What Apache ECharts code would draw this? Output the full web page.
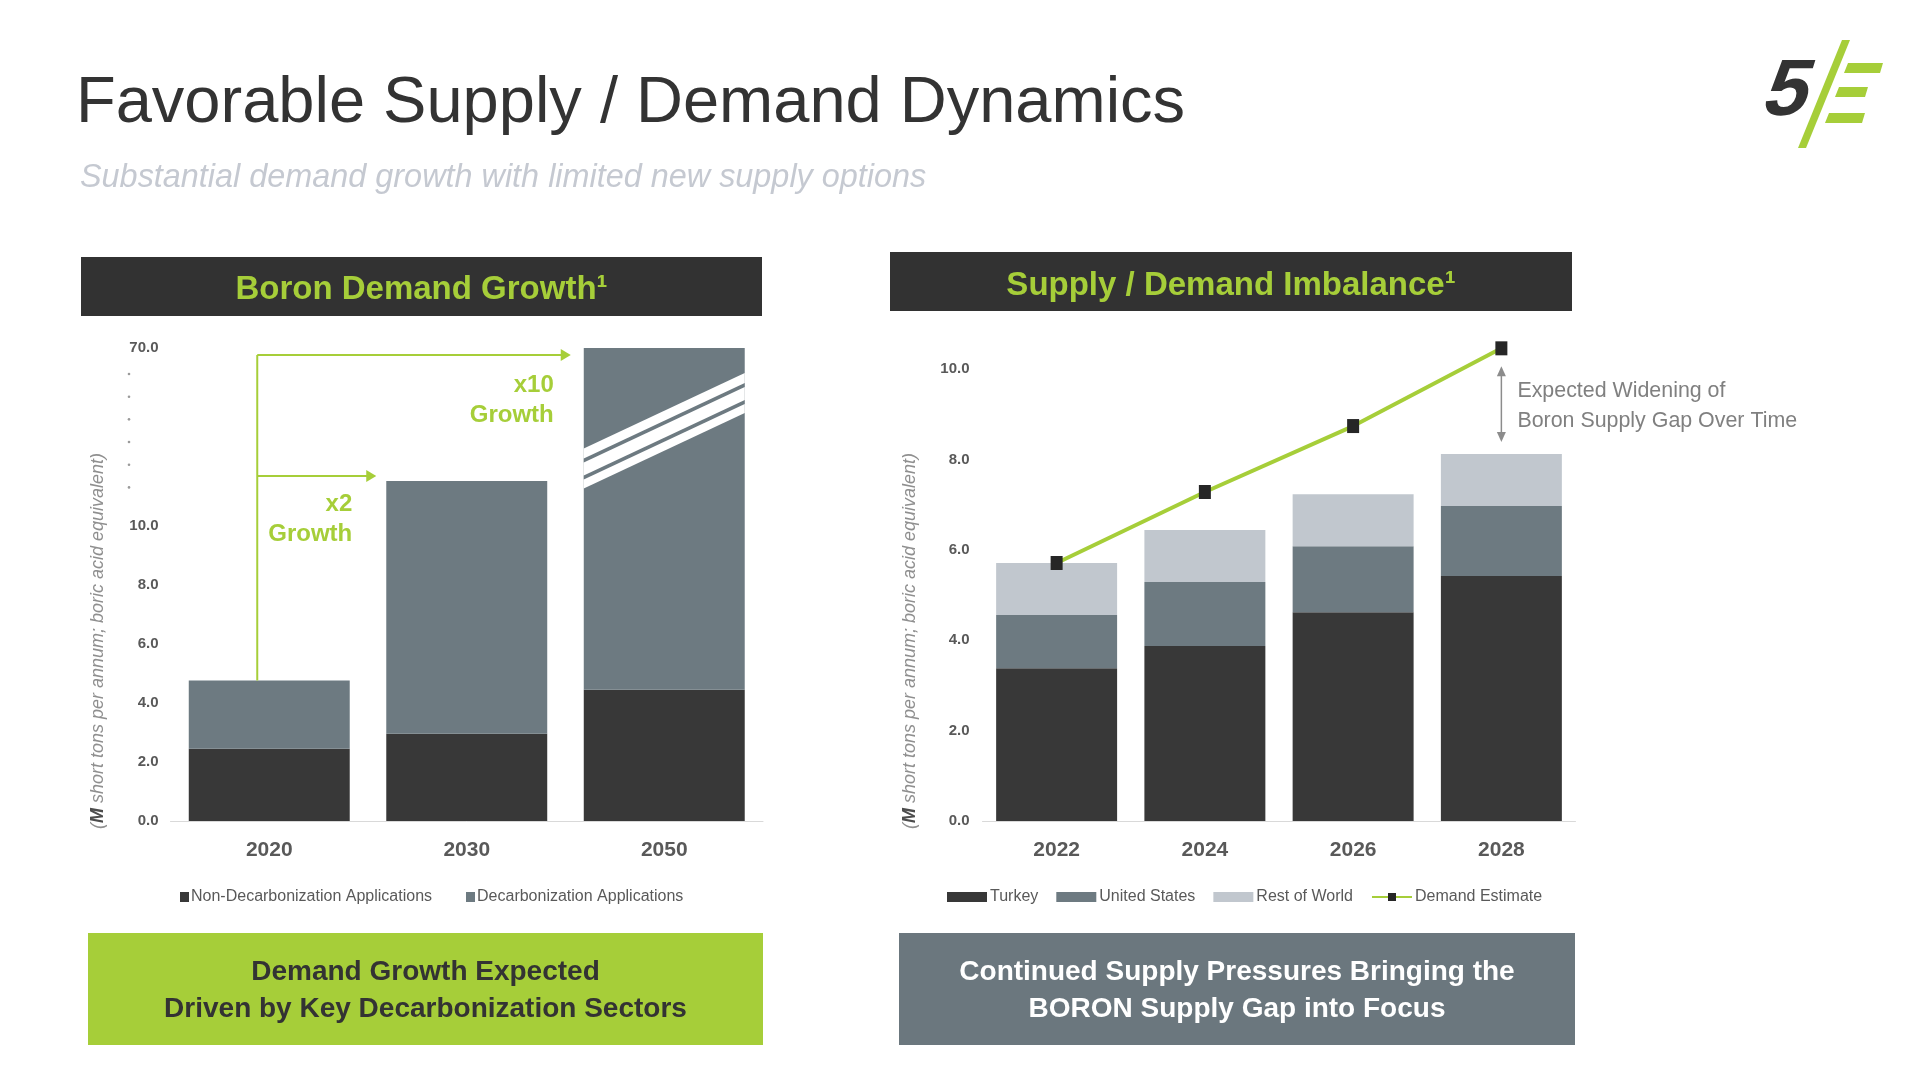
<!DOCTYPE html>
<html>
<head>
<meta charset="utf-8">
<script src="https://cdn.jsdelivr.net/npm/echarts@6/dist/echarts.min.js"></script>
<style>
html,body{margin:0;padding:0;background:#ffffff;}
#c{width:1920px;height:1080px;}
</style>
</head>
<body>
<div id="c"></div>
<script>
// ---------- data ----------
const demandYears = ['2020', '2030', '2050'];
const nonDecarbonization = [2.44, 2.95, 4.44];
const decarbonization = [2.31, 8.55, 65.56];
const leftTickLabels = [0, 2, 4, 6, 8, 10, 70];

const supplyYears = ['2022', '2024', '2026', '2028'];
const turkey = [3.38, 3.87, 4.62, 5.42];
const unitedStates = [1.18, 1.42, 1.46, 1.55];
const restOfWorld = [1.15, 1.15, 1.15, 1.15];
const demandEstimate = [5.71, 7.28, 8.74, 10.46];
const rightTickLabels = [0, 2, 4, 6, 8, 10];

// ---------- style ----------
const FONT = "'Liberation Sans', Arial, Helvetica, sans-serif";
const GREEN = '#a6ce39';
const DARK = '#383838';
const SLATE = '#6d7a81';
const LIGHT = '#c1c7ce';
const LABEL = '#595959';
const BREAK_START = 12.8, BREAK_END = 67.6;

const chart = echarts.init(document.getElementById('c'), null, {renderer: 'canvas'});

function fmt(list) {
  return function (v) {
    for (const t of list) { if (Math.abs(v - t) < 1e-6) return t.toFixed(1); }
    return '';
  };
}

const option = {
  animation: false,
  backgroundColor: '#ffffff',
  textStyle: {fontFamily: FONT},
  grid: [
    {left: 170.5, top: 348, width: 592.5, height: 473, containLabel: false},
    {left: 982.5, top: 342, width: 593, height: 479, containLabel: false}
  ],
  legend: [
    {
      data: ['Non-Decarbonization Applications', 'Decarbonization Applications'],
      left: 175, top: 884, itemWidth: 9, itemHeight: 10, itemGap: 34,
      icon: 'rect', selectedMode: false,
      textStyle: {color: LABEL, fontSize: 16, fontFamily: FONT, padding: [0, 0, 0, -3]}
    },
    {
      data: [
        {name: 'Turkey', icon: 'rect'},
        {name: 'United States', icon: 'rect'},
        {name: 'Rest of World', icon: 'rect'},
        {name: 'Demand Estimate'}
      ],
      left: 942, top: 884, itemWidth: 40, itemHeight: 10, itemGap: 18,
      selectedMode: false,
      textStyle: {color: LABEL, fontSize: 16, fontFamily: FONT, padding: [0, 0, 0, -2]}
    }
  ],
  xAxis: [
    {
      type: 'category', gridIndex: 0, data: demandYears,
      axisLine: {lineStyle: {color: '#d9d9d9', width: 1}},
      axisTick: {show: false},
      axisLabel: {color: LABEL, fontSize: 21, fontWeight: 'bold', margin: 19, fontFamily: FONT}
    },
    {
      type: 'category', gridIndex: 1, data: supplyYears,
      axisLine: {lineStyle: {color: '#d9d9d9', width: 1}},
      axisTick: {show: false},
      axisLabel: {color: LABEL, fontSize: 21, fontWeight: 'bold', margin: 19, fontFamily: FONT}
    }
  ],
  yAxis: [
    {
      type: 'value', gridIndex: 0, min: 0, max: 70, interval: 2,
      breaks: [{start: BREAK_START, end: BREAK_END, gap: '5%'}],
      breakArea: {show: false},
      axisLine: {show: false}, axisTick: {show: false}, splitLine: {show: false},
      axisLabel: {color: LABEL, fontSize: 15, fontWeight: 'bold', margin: 12, fontFamily: FONT,
                  formatter: fmt(leftTickLabels)}
    },
    {
      type: 'value', gridIndex: 1, min: 0, max: 10.6, interval: 2,
      axisLine: {show: false}, axisTick: {show: false}, splitLine: {show: false},
      axisLabel: {color: LABEL, fontSize: 15, fontWeight: 'bold', margin: 13, fontFamily: FONT,
                  formatter: fmt(rightTickLabels)}
    }
  ],
  series: [
    {name: 'Non-Decarbonization Applications', type: 'bar', stack: 'demand', xAxisIndex: 0, yAxisIndex: 0,
     data: nonDecarbonization, barWidth: '81.5%', itemStyle: {color: DARK}},
    {name: 'Decarbonization Applications', type: 'bar', stack: 'demand', xAxisIndex: 0, yAxisIndex: 0,
     data: decarbonization, barWidth: '81.5%', itemStyle: {color: SLATE}},
    {name: 'Turkey', type: 'bar', stack: 'supply', xAxisIndex: 1, yAxisIndex: 1,
     data: turkey, barWidth: '81.6%', itemStyle: {color: DARK}},
    {name: 'United States', type: 'bar', stack: 'supply', xAxisIndex: 1, yAxisIndex: 1,
     data: unitedStates, barWidth: '81.6%', itemStyle: {color: SLATE}},
    {name: 'Rest of World', type: 'bar', stack: 'supply', xAxisIndex: 1, yAxisIndex: 1,
     data: restOfWorld, barWidth: '81.6%', itemStyle: {color: LIGHT}},
    {name: 'Demand Estimate', type: 'line', xAxisIndex: 1, yAxisIndex: 1, z: 5,
     data: demandEstimate, symbol: 'rect', symbolSize: [12, 14], clip: false,
     lineStyle: {color: GREEN, width: 4}, itemStyle: {color: '#262626'}}
  ]
};
chart.setOption(option);

// ---------- annotations positioned through the axes ----------
const px = (i, c) => chart.convertToPixel({xAxisIndex: i}, c);
const py = (i, v) => chart.convertToPixel({yAxisIndex: i}, v);

const g = [];
function text(x, y, s, size, color, extra, el) {
  g.push(Object.assign({type: 'text', x: x, y: y, silent: true,
    style: Object.assign({text: s, fontSize: size, fill: color, fontFamily: FONT,
      textAlign: 'left', textVerticalAlign: 'middle'}, extra || {})}, el || {}));
}
function rect(x, y, w, h, color) {
  g.push({type: 'rect', silent: true, shape: {x: x, y: y, width: w, height: h}, style: {fill: color}, z: -1});
}
function poly(points, fill, z) {
  g.push({type: 'polygon', silent: true, z: z || 10, shape: {points: points}, style: {fill: fill}});
}
function line(points, stroke, w, z) {
  g.push({type: 'polyline', silent: true, z: z || 10, shape: {points: points}, style: {stroke: stroke, lineWidth: w, fill: null}});
}

// page title and subtitle
text(76, 104, 'Favorable Supply / Demand Dynamics', 65, '#333333');
text(80, 178, 'Substantial demand growth with limited new supply options', 32.4, '#c5c9d1', {fontStyle: 'italic'});

// logo
text(1766, 93, '5', 80, '#333333', {fontWeight: 'bold'}, {skewX: -0.3});
poly([[1842, 40], [1850, 40], [1806, 148], [1798, 148]], GREEN);
poly([[1848, 63], [1883, 63], [1880, 73], [1844, 73]], GREEN);
poly([[1839, 87], [1868, 87], [1865, 97], [1835, 97]], GREEN);
poly([[1829, 113], [1865, 113], [1862, 123], [1825, 123]], GREEN);

// panel headers
rect(81, 257, 681, 59, '#323232');
text(421.5, 290, 'Boron Demand Growth¹', 33, GREEN, {fontWeight: 'bold', textAlign: 'center'});
rect(890, 252, 682, 59, '#323232');
text(1231, 286, 'Supply / Demand Imbalance¹', 33, GREEN, {fontWeight: 'bold', textAlign: 'center'});

// bottom boxes
rect(88, 933, 675, 112, GREEN);
text(425.5, 972, 'Demand Growth Expected', 28, '#333333', {fontWeight: 'bold', textAlign: 'center'});
text(425.5, 1009, 'Driven by Key Decarbonization Sectors', 28, '#333333', {fontWeight: 'bold', textAlign: 'center'});
rect(899, 933, 676, 112, '#6b777e');
text(1237, 972, 'Continued Supply Pressures Bringing the', 28, '#ffffff', {fontWeight: 'bold', textAlign: 'center'});
text(1237, 1009, 'BORON Supply Gap into Focus', 28, '#ffffff', {fontWeight: 'bold', textAlign: 'center'});

// axis titles
function axisTitle(x) {
  g.push({type: 'text', x: x, y: 641, rotation: Math.PI / 2, silent: true,
    style: {text: '({b|M} short tons per annum; boric acid equivalent)', fontSize: 18, fill: '#8f8f8f',
      fontStyle: 'italic', fontFamily: FONT, textAlign: 'center', textVerticalAlign: 'middle',
      rich: {b: {fontSize: 18, fontWeight: 'bold', fontStyle: 'italic', fill: '#4d4d4d', fontFamily: FONT}}}});
}
axisTitle(98);
axisTitle(910);

// left axis: dots between 10 and 70
const p10 = py(0, 10), p70 = py(0, 70);
const d0 = p70 + 26, d1 = p10 - 38;
for (let i = 0; i < 6; i++) {
  g.push({type: 'circle', silent: true, shape: {cx: 129, cy: d0 + (d1 - d0) * i / 5, r: 1.3}, style: {fill: '#9a9a9a'}});
}

// left chart: growth arrows
const c2020 = px(0, demandYears[0]), c2030 = px(0, demandYears[1]), c2050 = px(0, demandYears[2]);
const band = c2030 - c2020, bw = band * 0.815;
const top2020 = py(0, nonDecarbonization[0] + decarbonization[0]);
const top2030 = py(0, nonDecarbonization[1] + decarbonization[1]);
const top2050 = py(0, nonDecarbonization[2] + decarbonization[2]);
const vx = c2020 - 12;
const yHi = top2050 + 7, yLo = top2030 - 5;
const tipHi = c2050 - bw / 2 - 13, tipLo = c2030 - bw / 2 - 10;
line([[vx, top2020], [vx, yHi]], GREEN, 2);
line([[vx, yHi], [tipHi - 8, yHi]], GREEN, 2);
line([[vx, yLo], [tipLo - 8, yLo]], GREEN, 2);
poly([[tipHi - 10, yHi - 6], [tipHi, yHi], [tipHi - 10, yHi + 6]], GREEN);
poly([[tipLo - 10, yLo - 6], [tipLo, yLo], [tipLo - 10, yLo + 6]], GREEN);
text(tipHi - 17, yHi + 30, 'x10', 24, GREEN, {fontWeight: 'bold', textAlign: 'right'});
text(tipHi - 17, yHi + 60, 'Growth', 24, GREEN, {fontWeight: 'bold', textAlign: 'right'});
text(tipLo - 24, yLo + 28, 'x2', 24, GREEN, {fontWeight: 'bold', textAlign: 'right'});
text(tipLo - 24, yLo + 58, 'Growth', 24, GREEN, {fontWeight: 'bold', textAlign: 'right'});

// left chart: diagonal break marks on the 2050 bar
const yb = (py(0, BREAK_START) + py(0, BREAK_END)) / 2;
const bl = c2050 - bw / 2, br = c2050 + bw / 2;
const slope = 0.47;
const yAt = (x, off) => yb + (c2050 - x) * slope + off;
poly([[bl, yAt(bl, -20)], [br, yAt(br, -20)], [br, yAt(br, 20)], [bl, yAt(bl, 20)]], '#ffffff', 20);
poly([[bl, yAt(bl, -10)], [br, yAt(br, -10)], [br, yAt(br, -6)], [bl, yAt(bl, -6)]], SLATE, 21);
poly([[bl, yAt(bl, 7)], [br, yAt(br, 7)], [br, yAt(br, 11)], [bl, yAt(bl, 11)]], SLATE, 21);

// right chart: widening gap annotation
const c2028 = px(1, supplyYears[3]);
const dTop = py(1, demandEstimate[3]) + 18;
const sTop = py(1, turkey[3] + unitedStates[3] + restOfWorld[3]) - 12;
line([[c2028, dTop + 8], [c2028, sTop - 8]], '#8c8c8c', 1.5);
poly([[c2028 - 4.5, dTop + 10], [c2028, dTop], [c2028 + 4.5, dTop + 10]], '#8c8c8c');
poly([[c2028 - 4.5, sTop - 10], [c2028, sTop], [c2028 + 4.5, sTop - 10]], '#8c8c8c');
text(c2028 + 16, dTop + 25, 'Expected Widening of', 21.4, '#808080');
text(c2028 + 16, dTop + 55, 'Boron Supply Gap Over Time', 21.4, '#808080');

chart.setOption({graphic: {elements: g}});
</script>
</body>
</html>
